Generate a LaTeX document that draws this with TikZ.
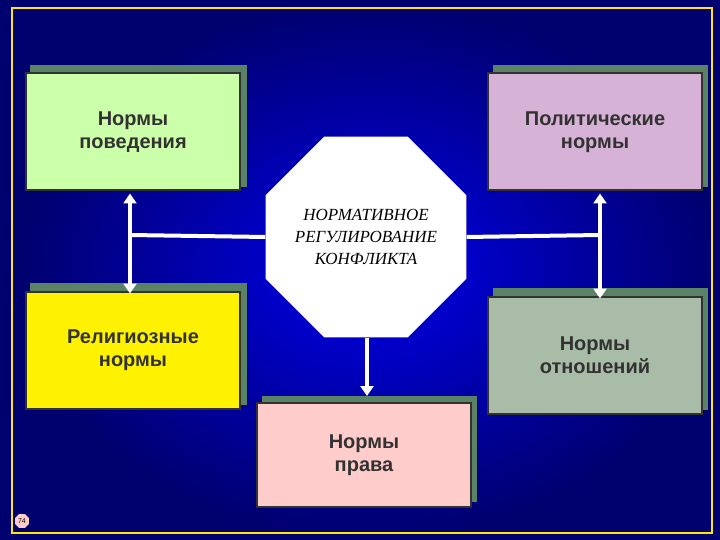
\documentclass[tikz,border=0pt]{standalone}
\usepackage{fontspec}
\setmainfont{Liberation Sans}
\newfontfamily\serifit{Liberation Serif}
\usetikzlibrary{shapes.geometric,arrows.meta,shadings}
\definecolor{navy}{RGB}{0,0,110}
\definecolor{bright}{RGB}{0,0,235}
\definecolor{shad}{RGB}{90,130,100}
\definecolor{txt}{RGB}{50,50,50}
\tikzset{
  nbox/.style={draw=txt,line width=2pt,minimum width=214pt,minimum height=117pt,inner sep=0pt,
    font=\bfseries\fontsize{20}{23}\selectfont,text=txt,align=center},
  shadowbox/.style={fill=shad},
  conn/.style={white,line width=4pt},
  dbl/.style={white,line width=4pt,{Triangle[width=13pt,length=10pt]}-{Triangle[width=13pt,length=10pt]}},
}
\newcommand{\boxat}[6]{% name, x1,y1,x2,y2, fill, text
}
\begin{document}
\begin{tikzpicture}[x=1pt,y=-1pt]
\useasboundingbox (0,0) rectangle (720,540);
\fill[navy] (0,0) rectangle (720,540);
\shade[inner color=bright,outer color=navy] (20,0) rectangle (720,540);
\draw[yellow!90!orange,line width=1.5pt] (12,8) rectangle (712,533);
% shadows
\fill[shad] (30,65) rectangle (247,187);
\fill[shad] (493,65) rectangle (708,187);
\fill[shad] (30,283) rectangle (247,405);
\fill[shad] (493,288) rectangle (708,410);
\fill[shad] (262,396) rectangle (477,502);
% boxes
\node[nbox,fill={rgb,255:red,204;green,255;blue,170}] (a) at (133,132) {Нормы\\поведения};
\node[nbox,fill={rgb,255:red,214;green,178;blue,214}] (b) at (595,132) {Политические\\нормы};
\node[nbox,fill=yellow] (c) at (133,350) {Религиозные\\нормы};
\node[nbox,fill={rgb,255:red,168;green,188;blue,168}] (d) at (595,355) {Нормы\\отношений};
\node[nbox,fill={rgb,255:red,255;green,204;blue,204},minimum height=104pt] (e) at (364,455) {Нормы\\права};
% octagon
\node[regular polygon,regular polygon sides=8,fill=white,minimum size=213pt,inner sep=0pt,
  font=\serifit\itshape\fontsize{17}{22}\selectfont,align=center,text=black] (o) at (366,237)
  {НОРМАТИВНОЕ\\РЕГУЛИРОВАНИЕ\\КОНФЛИКТА};
% connectors
\coordinate (jl) at (130,235);
\coordinate (jr) at (600,235);
\draw[conn] (o.west) -- (jl);
\draw[conn] (o.east) -- (jr);
\draw[dbl] (a.south -| jl) ++(0,2) -- ([yshift=-3pt]c.north -| jl);
\draw[dbl] (b.south -| jr) ++(0,2) -- ([yshift=-3pt]d.north -| jr);
\draw[white,line width=4pt,-{Triangle[width=13pt,length=10pt]}] (o.south -| 367,0) -- (367,396);
% page number
\node[regular polygon,regular polygon sides=8,fill={rgb,255:red,255;green,204;blue,204},minimum size=15pt,inner sep=0pt,font=\fontsize{7}{7}\selectfont] (p) at (22,521) {74};
\end{tikzpicture}
\end{document}
